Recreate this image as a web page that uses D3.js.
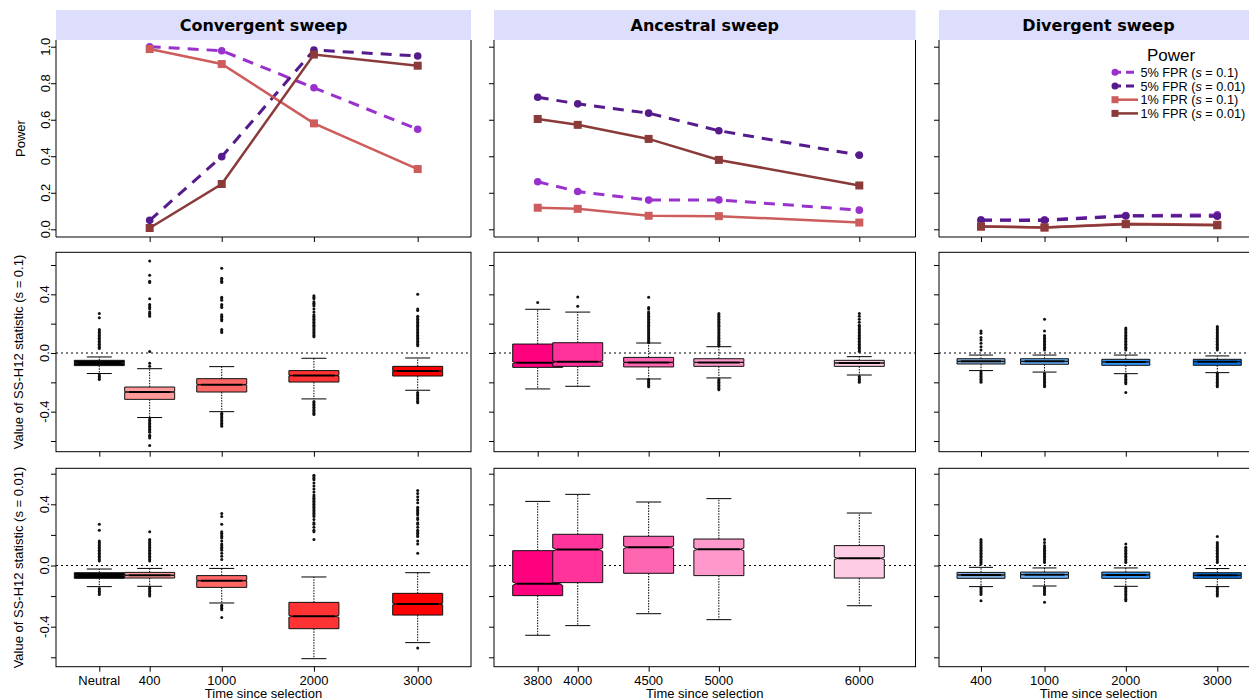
<!DOCTYPE html>
<html>
<head>
<meta charset="utf-8">
<script src="https://cdn.jsdelivr.net/npm/d3@7"></script>
<style>
  body { margin: 0; background: #fff; }
  svg { display: block; }
</style>
</head>
<body>
<svg id="chart" width="1249" height="700"></svg>
<script>
// ---------------- data ----------------
const sweepTitles = ["Convergent sweep", "Ancestral sweep", "Divergent sweep"];

const convergentLabels = ["Neutral", "400", "1000", "2000", "3000"];
const ancestralLabels  = ["3800", "4000", "4500", "5000", "6000"];
const divergentLabels  = ["400", "1000", "2000", "3000"];

// placement of each category along its panel's x axis (boxplot "at")
const convergentAt = [0, 1, 2.43, 4.26, 6.32];
const ancestralAt  = [0, 0.57, 1.58, 2.58, 4.58];
const divergentAt  = [1, 2.43, 4.26, 6.32];

// power at 5% / 1% false positive rate
const powerConv5s01  = [1.000, 0.978, 0.775, 0.548];
const powerConv5s001 = [0.049, 0.398, 0.982, 0.949];
const powerConv1s01  = [0.987, 0.905, 0.580, 0.330];
const powerConv1s001 = [0.007, 0.248, 0.957, 0.896];

const powerAnc5s01  = [0.260, 0.207, 0.160, 0.161, 0.105];
const powerAnc5s001 = [0.723, 0.687, 0.636, 0.540, 0.406];
const powerAnc1s01  = [0.118, 0.112, 0.074, 0.072, 0.037];
const powerAnc1s001 = [0.604, 0.572, 0.495, 0.380, 0.240];

const powerDiv5s01  = [0.051, 0.052, 0.075, 0.079];
const powerDiv5s001 = [0.050, 0.048, 0.073, 0.072];
const powerDiv1s01  = [0.015, 0.010, 0.030, 0.025];
const powerDiv1s001 = [0.015, 0.010, 0.028, 0.022];

// SS-H12 box statistics: [lower whisker, Q1, median, Q3, upper whisker]
const convS01Stats = [
  [-0.140, -0.086, -0.068, -0.050, -0.027],
  [-0.440, -0.316, -0.266, -0.232, -0.107],
  [-0.400, -0.266, -0.216, -0.175, -0.093],
  [-0.313, -0.198, -0.154, -0.120, -0.036],
  [-0.254, -0.157, -0.123, -0.091, -0.034]
];
const ancS01Stats = [
  [-0.245, -0.098, -0.066, 0.061, 0.298],
  [-0.227, -0.091, -0.059, 0.070, 0.279],
  [-0.177, -0.095, -0.064, -0.030, 0.068],
  [-0.170, -0.091, -0.064, -0.039, 0.043],
  [-0.150, -0.091, -0.068, -0.050, -0.025]
];
const divS01Stats = [
  [-0.120, -0.075, -0.057, -0.039, -0.014],
  [-0.130, -0.077, -0.057, -0.039, -0.014],
  [-0.141, -0.084, -0.061, -0.043, -0.014],
  [-0.134, -0.084, -0.059, -0.043, -0.020]
];
const convS001Stats = [
  [-0.138, -0.084, -0.066, -0.047, -0.023],
  [-0.136, -0.082, -0.064, -0.045, -0.019],
  [-0.245, -0.143, -0.099, -0.066, -0.019],
  [-0.609, -0.413, -0.332, -0.241, -0.075],
  [-0.504, -0.324, -0.252, -0.182, -0.047]
];
const ancS001Stats = [
  [-0.456, -0.197, -0.119, 0.097, 0.419],
  [-0.393, -0.112, 0.104, 0.204, 0.465],
  [-0.315, -0.051, 0.119, 0.191, 0.415],
  [-0.354, -0.066, 0.106, 0.173, 0.437],
  [-0.263, -0.082, 0.047, 0.130, 0.343]
];
const divS001Stats = [
  [-0.138, -0.084, -0.062, -0.045, -0.012],
  [-0.134, -0.084, -0.060, -0.043, -0.016],
  [-0.136, -0.084, -0.062, -0.043, -0.016],
  [-0.138, -0.084, -0.064, -0.047, -0.020]
];

// outlying replicates beyond the whiskers
const convS01Out = [
  [0.27, 0.24, 0.16, 0.15, 0.14, 0.13, 0.12, 0.11, 0.10, 0.09, 0.08, 0.07, 0.06, 0.05, 0.04, 0.03,
   -0.15, -0.16, -0.17, -0.18],
  [0.627, 0.53, 0.49, 0.48, 0.37, 0.33, 0.32, 0.31, 0.30, 0.28, 0.27, 0.26, 0.25, 0.01, -0.07, -0.09,
   -0.45, -0.46, -0.47, -0.48, -0.49, -0.50, -0.51, -0.52, -0.53, -0.54, -0.56, -0.57, -0.58, -0.63],
  [0.577, 0.51, 0.50, 0.49, 0.48, 0.38, 0.37, 0.36, 0.33, 0.32, 0.31, 0.26, 0.25, 0.24, 0.23, 0.22, 0.16, 0.15, 0.14,
   -0.41, -0.42, -0.43, -0.44, -0.45, -0.46, -0.47, -0.48, -0.49, -0.50],
  [0.39, 0.38, 0.37, 0.35, 0.34, 0.33, 0.32, 0.30, 0.28, 0.26, 0.25, 0.24, 0.23, 0.22, 0.21, 0.20, 0.19, 0.18,
   0.17, 0.16, 0.15, 0.14, 0.13, 0.12, 0.11,
   -0.33, -0.34, -0.35, -0.36, -0.37, -0.38, -0.39, -0.40, -0.41, -0.42],
  [0.40, 0.30, 0.29, 0.25, 0.24, 0.23, 0.22, 0.21, 0.20, 0.19, 0.18, 0.17, 0.16, 0.15, 0.14, 0.13, 0.12, 0.11,
   0.10, 0.09, 0.08, 0.07, 0.06, 0.05,
   -0.27, -0.28, -0.29, -0.30, -0.31, -0.32, -0.33, -0.34]
];
const ancS01Out = [
  [0.345],
  [0.382, 0.318],
  [0.38, 0.31, 0.30, 0.28, 0.27, 0.26, 0.25, 0.24, 0.23, 0.22, 0.21, 0.20, 0.19, 0.18, 0.17, 0.16, 0.15, 0.14,
   0.13, 0.12, 0.11, 0.10, 0.09, 0.08, 0.07,
   -0.18, -0.19, -0.20, -0.21, -0.22, -0.23],
  [0.27, 0.26, 0.25, 0.24, 0.23, 0.22, 0.21, 0.20, 0.19, 0.18, 0.17, 0.16, 0.15, 0.14, 0.13, 0.12, 0.11, 0.10,
   0.09, 0.08, 0.07, 0.06, 0.05,
   -0.18, -0.19, -0.20, -0.21, -0.22, -0.23, -0.24, -0.25],
  [0.27, 0.25, 0.23, 0.21, 0.19, 0.18, 0.17, 0.16, 0.15, 0.14, 0.13, 0.12, 0.11, 0.10, 0.09, 0.08, 0.07, 0.06,
   0.05, 0.04, 0.03, 0.02, 0.01,
   -0.16, -0.17, -0.18, -0.19, -0.20]
];
const divS01Out = [
  [0.15, 0.135, 0.106, 0.088, 0.066, 0.043, 0.02,
   -0.13, -0.14, -0.15, -0.16, -0.17, -0.18, -0.19, -0.20],
  [0.23, 0.15, 0.12, 0.11, 0.10, 0.09, 0.08, 0.07, 0.06, 0.05, 0.04, 0.03, 0.02,
   -0.14, -0.15, -0.16, -0.17, -0.18, -0.19, -0.20, -0.21, -0.22, -0.23],
  [0.17, 0.16, 0.15, 0.14, 0.13, 0.12, 0.11, 0.10, 0.09, 0.08, 0.07, 0.06, 0.05, 0.04, 0.03, 0.02,
   -0.15, -0.16, -0.17, -0.18, -0.19, -0.20, -0.21, -0.27],
  [0.18, 0.17, 0.16, 0.15, 0.14, 0.13, 0.12, 0.11, 0.10, 0.09, 0.08, 0.07, 0.06, 0.05, 0.04, 0.03, 0.02,
   -0.14, -0.15, -0.16, -0.17, -0.18, -0.19, -0.20, -0.21, -0.22, -0.23]
];
const convS001Out = [
  [0.27, 0.23, 0.16, 0.15, 0.14, 0.13, 0.12, 0.11, 0.10, 0.09, 0.08, 0.07, 0.06, 0.05, 0.04, 0.03,
   -0.15, -0.16, -0.17, -0.18, -0.19],
  [0.22, 0.17, 0.16, 0.15, 0.14, 0.13, 0.12, 0.11, 0.10, 0.09, 0.08, 0.07, 0.06, 0.05, 0.04, 0.03,
   -0.14, -0.15, -0.16, -0.17, -0.18, -0.19, -0.20],
  [0.34, 0.32, 0.27, 0.22, 0.21, 0.20, 0.19, 0.18, 0.16, 0.14, 0.13, 0.12, 0.11, 0.10, 0.08, 0.06, 0.04,
   -0.26, -0.27, -0.28, -0.29, -0.34],
  [0.59, 0.58, 0.57, 0.56, 0.54, 0.52, 0.50, 0.48, 0.46, 0.45, 0.44, 0.43, 0.42, 0.41, 0.40, 0.39, 0.38, 0.37,
   0.36, 0.35, 0.34, 0.33, 0.32, 0.30, 0.28, 0.27, 0.25, 0.23, 0.22, 0.17],
  [0.49, 0.47, 0.45, 0.43, 0.41, 0.38, 0.37, 0.36, 0.35, 0.34, 0.33, 0.31, 0.30, 0.28, 0.27, 0.25, 0.23, 0.22,
   0.21, 0.20, 0.19, 0.16, 0.14, 0.08, -0.54]
];
const ancS001Out = [[], [], [], [], []];
const divS001Out = [
  [0.17, 0.16, 0.15, 0.14, 0.13, 0.12, 0.11, 0.10, 0.09, 0.08, 0.07, 0.06, 0.05, 0.04, 0.03, 0.02, 0.01,
   -0.14, -0.15, -0.16, -0.17, -0.18, -0.19, -0.23],
  [0.17, 0.15, 0.13, 0.12, 0.11, 0.10, 0.09, 0.08, 0.07, 0.06, 0.05, 0.04, 0.03, 0.02,
   -0.14, -0.15, -0.16, -0.17, -0.18, -0.19, -0.24],
  [0.14, 0.12, 0.11, 0.10, 0.09, 0.08, 0.07, 0.06, 0.05, 0.04, 0.03, 0.02,
   -0.14, -0.15, -0.16, -0.17, -0.18, -0.19, -0.20, -0.21, -0.22, -0.23],
  [0.19, 0.15, 0.14, 0.13, 0.12, 0.11, 0.10, 0.09, 0.08, 0.07, 0.06, 0.05, 0.04, 0.03, 0.02,
   -0.14, -0.15, -0.16, -0.17, -0.18, -0.19, -0.20]
];

const nReplicates = 2000;   // simulations per box (sets notch size)

const powerTicks = [0, 0.2, 0.4, 0.6, 0.8, 1.0];
const powerTickLabels = ["0.0", "0.2", "0.4", "0.6", "0.8", "1.0"];
const statTicks = [-0.6, -0.4, -0.2, 0, 0.2, 0.4, 0.6];
const statLabelTicks = [-0.4, 0, 0.4];
const statTickLabels = ["-0.4", "0.0", "0.4"];

// ---------------- styles / layout ----------------
const convergentColors = ["#000000", "#FF9999", "#FF6666", "#FF3333", "#FF0000"];
const ancestralColors  = ["#FF007F", "#FF3399", "#FF66B2", "#FF99CC", "#FFCCE5"];
const divergentColors  = ["#7FAEDF", "#66B2FF", "#3399FF", "#0A72DE"];

const FONT = "'Liberation Sans', Arial, Helvetica, sans-serif";
const STRIP_FONT = "'DejaVu Sans', Verdana, sans-serif";

const cols = [
  { x0: 56,  x1: 471,    padL: 43.3, padR: 53.3 },
  { x0: 494, x1: 915.5,  padL: 43.7, padR: 56.2 },
  { x0: 939, x1: 1258,   padL: 42,   padR: 40.7 }
];
const rows = [
  { y0: 40,    y1: 237,   domain: [0, 1],       range: [229.3, 46.7] },
  { y0: 252.3, y1: 451.7, domain: [-0.6, 0.6],  range: [441.0, 265.0] },
  { y0: 468.3, y1: 666.7, domain: [-0.6, 0.6],  range: [657.3, 473.7] }
];

const panels = [
  { labels: convergentLabels, at: convergentAt, colors: convergentColors, half: 25,
    power: [powerConv5s01, powerConv5s001, powerConv1s01, powerConv1s001], powerAt: convergentAt.slice(1),
    stats: [convS01Stats, convS001Stats], outs: [convS01Out, convS001Out] },
  { labels: ancestralLabels, at: ancestralAt, colors: ancestralColors, half: 25,
    power: [powerAnc5s01, powerAnc5s001, powerAnc1s01, powerAnc1s001], powerAt: ancestralAt,
    stats: [ancS01Stats, ancS001Stats], outs: [ancS01Out, ancS001Out] },
  { labels: divergentLabels, at: divergentAt, colors: divergentColors, half: 24,
    power: [powerDiv5s01, powerDiv5s001, powerDiv1s01, powerDiv1s001], powerAt: divergentAt,
    stats: [divS01Stats, divS001Stats], outs: [divS01Out, divS001Out] }
];

const powerStyles = [
  { name: "5% FPR", s: "0.1",  color: "#9932CC", dash: "11,8", marker: "circle", width: 3 },
  { name: "5% FPR", s: "0.01", color: "#551A8B", dash: "11,8", marker: "circle", width: 3 },
  { name: "1% FPR", s: "0.1",  color: "#CD5C5C", dash: null,   marker: "square", width: 2.5 },
  { name: "1% FPR", s: "0.01", color: "#8B3A3A", dash: null,   marker: "square", width: 2.5 }
];

const svg = d3.select("#chart");
svg.append("rect").attr("width", 1249).attr("height", 700).attr("fill", "#fff");

function xScaleFor(col, at) {
  const c = cols[col];
  return d3.scaleLinear()
    .domain([at[0], at[at.length - 1]])
    .range([c.x0 + c.padL, c.x1 - c.padR]);
}

panels.forEach((p, ci) => {
  const c = cols[ci];
  const x = xScaleFor(ci, p.at);

  // strip header
  svg.append("rect")
    .attr("x", c.x0).attr("y", 10).attr("width", c.x1 - c.x0).attr("height", 30)
    .attr("fill", "#DDDDFC");
  svg.append("text")
    .attr("x", (c.x0 + c.x1) / 2).attr("y", 31)
    .attr("text-anchor", "middle")
    .attr("font-family", STRIP_FONT).attr("font-weight", "bold").attr("font-size", 16)
    .attr("fill", "#000")
    .text(sweepTitles[ci]);

  rows.forEach((r, ri) => {
    const y = d3.scaleLinear().domain(r.domain).range(r.range);
    const g = svg.append("g");

    // frame
    if (ri === 0) {
      g.append("path")
        .attr("d", `M${c.x0},${r.y0}V${r.y1}H${c.x1}V${r.y0}`)
        .attr("fill", "none").attr("stroke", "#000").attr("stroke-width", 1);
    } else {
      g.append("rect")
        .attr("x", c.x0).attr("y", r.y0).attr("width", c.x1 - c.x0).attr("height", r.y1 - r.y0)
        .attr("fill", "none").attr("stroke", "#000").attr("stroke-width", 1);
    }

    // y ticks
    const yAxis = d3.axisLeft(y)
      .tickValues(ri === 0 ? powerTicks : statTicks)
      .tickSize(5).tickSizeOuter(0).tickFormat("");
    const ya = g.append("g").attr("transform", `translate(${c.x0},0)`).call(yAxis);
    ya.select(".domain").remove();
    ya.selectAll(".tick line").attr("stroke", "#000");

    // x ticks
    const xt = ri === 0 ? p.powerAt : p.at;
    const xAxis = d3.axisBottom(x).tickValues(xt).tickSize(5).tickSizeOuter(0).tickFormat("");
    const xa = g.append("g").attr("transform", `translate(0,${r.y1})`).call(xAxis);
    xa.select(".domain").remove();
    xa.selectAll(".tick line").attr("stroke", "#000");

    // y tick labels on the first column
    if (ci === 0) {
      const tv = ri === 0 ? powerTicks : statLabelTicks;
      const tl = ri === 0 ? powerTickLabels : statTickLabels;
      tv.forEach((v, i) => {
        svg.append("text")
          .attr("transform", `translate(${ri === 0 ? 49.5 : 48.5},${y(v)}) rotate(-90)`)
          .attr("text-anchor", "middle")
          .attr("font-family", FONT).attr("font-size", 13).attr("fill", "#000")
          .text(tl[i]);
      });
    }

    // x tick labels on the bottom row
    if (ri === 2) {
      p.labels.forEach((lab, i) => {
        svg.append("text")
          .attr("x", x(p.at[i])).attr("y", 685)
          .attr("text-anchor", "middle")
          .attr("font-family", FONT).attr("font-size", 13).attr("fill", "#000")
          .text(lab);
      });
      svg.append("text")
        .attr("x", (c.x0 + c.x1) / 2).attr("y", 698)
        .attr("text-anchor", "middle")
        .attr("font-family", FONT).attr("font-size", 13).attr("fill", "#000")
        .text("Time since selection");
    }

    if (ri === 0) {
      // power curves
      const line = d3.line().x((d, i) => x(p.powerAt[i])).y(d => y(d));
      p.power.forEach((series, si) => {
        const st = powerStyles[si];
        g.append("path")
          .attr("d", line(series))
          .attr("fill", "none").attr("stroke", st.color).attr("stroke-width", st.width)
          .attr("stroke-dasharray", st.dash);
        series.forEach((v, i) => {
          if (st.marker === "circle") {
            g.append("circle").attr("cx", x(p.powerAt[i])).attr("cy", y(v)).attr("r", 3.8)
              .attr("fill", st.color);
          } else {
            g.append("rect").attr("x", x(p.powerAt[i]) - 4).attr("y", y(v) - 4)
              .attr("width", 8).attr("height", 8).attr("fill", st.color);
          }
        });
      });
    } else {
      const stats = p.stats[ri - 1];
      const outs = p.outs[ri - 1];

      // zero reference line
      g.append("line")
        .attr("x1", c.x0).attr("x2", c.x1).attr("y1", y(0)).attr("y2", y(0))
        .attr("stroke", "#000").attr("stroke-width", 1).attr("stroke-dasharray", "2,3");

      stats.forEach((s, i) => {
        const [lo, q1, med, q3, hi] = s;
        const cx = x(p.at[i]);
        const w = p.half;
        const nf = 0.84;
        const nh = 1.58 * (q3 - q1) / Math.sqrt(nReplicates);

        // whiskers
        [[q3, hi], [q1, lo]].forEach(([a, b]) => {
          g.append("line").attr("x1", cx).attr("x2", cx).attr("y1", y(a)).attr("y2", y(b))
            .attr("stroke", "#000").attr("stroke-width", 1).attr("stroke-dasharray", "1.5,1.2");
        });
        [lo, hi].forEach(v => {
          g.append("line").attr("x1", cx - w / 2).attr("x2", cx + w / 2).attr("y1", y(v)).attr("y2", y(v))
            .attr("stroke", "#000").attr("stroke-width", 1);
        });

        // notched box
        const pts = [
          [cx - w, y(q1)], [cx + w, y(q1)], [cx + w, y(med - nh)], [cx + w * nf, y(med)],
          [cx + w, y(med + nh)], [cx + w, y(q3)], [cx - w, y(q3)], [cx - w, y(med + nh)],
          [cx - w * nf, y(med)], [cx - w, y(med - nh)]
        ];
        g.append("path")
          .attr("d", d3.line()(pts) + "Z")
          .attr("fill", p.colors[i]).attr("stroke", "#111").attr("stroke-width", 1);

        // median
        g.append("line")
          .attr("x1", cx - w * nf).attr("x2", cx + w * nf).attr("y1", y(med)).attr("y2", y(med))
          .attr("stroke", "#000").attr("stroke-width", 2);

        // outliers
        g.selectAll(null).data(outs[i]).enter().append("circle")
          .attr("cx", cx).attr("cy", d => y(d)).attr("r", 1.5)
          .attr("fill", "#111");
      });
    }
  });
});

// y axis titles
svg.append("text")
  .attr("transform", `translate(24.5,${(rows[0].y0 + rows[0].y1) / 2}) rotate(-90)`)
  .attr("text-anchor", "middle").attr("font-family", FONT).attr("font-size", 13)
  .text("Power");
svg.append("text")
  .attr("transform", `translate(23,${(rows[1].y0 + rows[1].y1) / 2}) rotate(-90)`)
  .attr("text-anchor", "middle").attr("font-family", FONT).attr("font-size", 13)
  .text("Value of SS-H12 statistic (s = 0.1)");
svg.append("text")
  .attr("transform", `translate(23,${(rows[2].y0 + rows[2].y1) / 2}) rotate(-90)`)
  .attr("text-anchor", "middle").attr("font-family", FONT).attr("font-size", 13)
  .text("Value of SS-H12 statistic (s = 0.01)");

// legend
const lg = svg.append("g");
lg.append("text")
  .attr("x", 1171).attr("y", 61).attr("text-anchor", "middle")
  .attr("font-family", FONT).attr("font-size", 17).text("Power");
powerStyles.forEach((st, i) => {
  const ly = 72.3 + i * 13.7;
  lg.append("line").attr("x1", 1113).attr("x2", 1138).attr("y1", ly).attr("y2", ly)
    .attr("stroke", st.color).attr("stroke-width", st.width)
    .attr("stroke-dasharray", st.dash ? "8,5" : null);
  if (st.marker === "circle") {
    lg.append("circle").attr("cx", 1115).attr("cy", ly).attr("r", 3.5).attr("fill", st.color);
  } else {
    lg.append("rect").attr("x", 1111.5).attr("y", ly - 3.5).attr("width", 7).attr("height", 7)
      .attr("fill", st.color);
  }
  const t = lg.append("text").attr("x", 1140.5).attr("y", ly + 4.6)
    .attr("font-family", FONT).attr("font-size", 12.7);
  t.append("tspan").text(`${st.name} (`);
  t.append("tspan").attr("font-style", "italic").text("s");
  t.append("tspan").text(` = ${st.s})`);
});
</script>
</body>
</html>
